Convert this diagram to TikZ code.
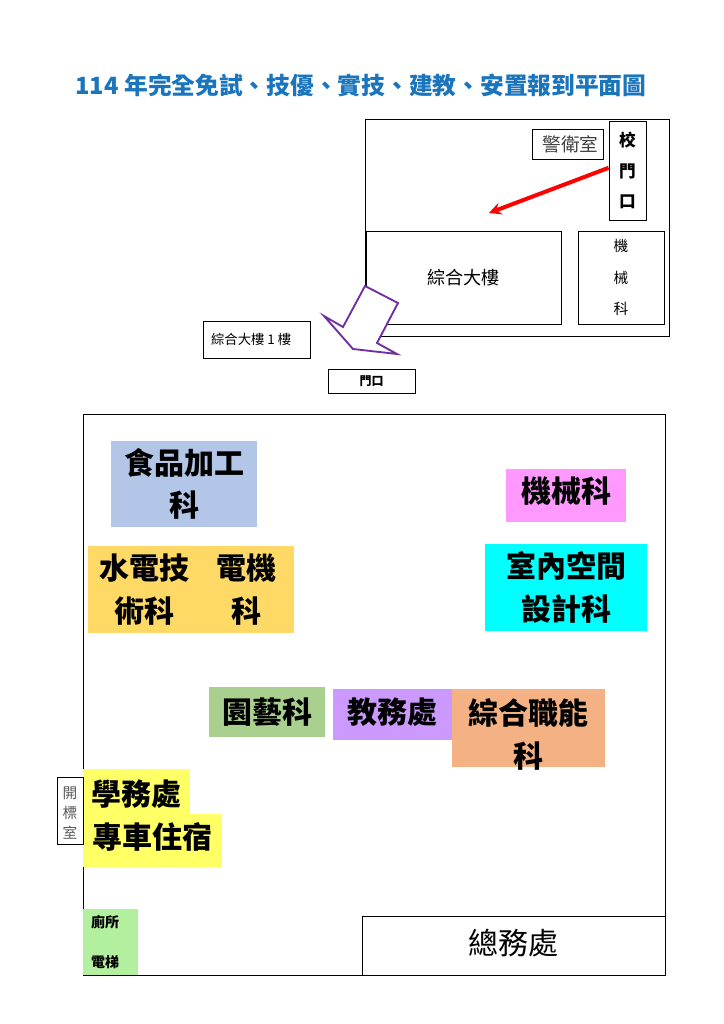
\documentclass[tikz,border=0pt]{standalone}
\usepackage{xcolor}
\usepackage{fontspec}
\setmainfont{Noto Sans CJK TC}
\usetikzlibrary{arrows,positioning}
\definecolor{titleblue}{RGB}{26,117,188}
\definecolor{boxblue}{RGB}{180,198,231}
\definecolor{boxpink}{RGB}{255,153,255}
\definecolor{boxgold}{RGB}{255,217,102}
\definecolor{boxcyan}{RGB}{0,255,255}
\definecolor{boxgreen}{RGB}{169,208,142}
\definecolor{boxpurple}{RGB}{204,153,255}
\definecolor{boxorange}{RGB}{244,177,131}
\definecolor{boxyellow}{RGB}{255,255,102}
\definecolor{boxlime}{RGB}{178,240,160}
\definecolor{arrowpurple}{RGB}{112,48,160}
\newcommand{\pxu}{0.75pt}
\newcommand{\lineup}[1]{\rule[-#1]{0pt}{#1}}
\newcommand{\linedown}[1]{\rule{0pt}{#1}}

\begin{document}
\begin{tikzpicture}[
    x=0.75pt, y=-0.75pt,
    room/.style={rectangle, draw=black, fill=white, line width=0.6pt, inner sep=0pt, align=center},
    area/.style={rectangle, inner sep=0pt, align=center, font=\fontsize{22.5}{32}\selectfont\bfseries},
    arrow/.style={-stealth, red, line width=3pt}
]
    \useasboundingbox (0,0) rectangle (724,1024);
    \node[text=titleblue, font=\fontsize{17.8}{22}\selectfont\bfseries] (title) at (361,85) {114 年完全免試、技優、實技、建教、安置報到平面圖};

    % campus map
    \node[room, minimum width=304*\pxu, minimum height=217*\pxu] (campus) at (517,227.5) {};
    \node[room, minimum width=71*\pxu, minimum height=30*\pxu, font=\fontsize{14}{18}\selectfont, text=black!75] (guard) at (567.5,144) {\hspace*{4.5pt}警衛室};
    \node[room, minimum width=37*\pxu, minimum height=99*\pxu, font=\fontsize{12.5}{23}\selectfont\bfseries] (gate) at (627.5,170.5) {校\\門\\口};
    \node[room, minimum width=195*\pxu, minimum height=93*\pxu, font=\fontsize{13.6}{18}\selectfont] (building) at (463.5,277.5) {綜合大樓};
    \node[room, minimum width=86*\pxu, minimum height=93*\pxu, font=\fontsize{11}{23.5}\selectfont] (mechmap) at (621,277.5) {機\\械\\科};
    \node[room, minimum width=107*\pxu, minimum height=37*\pxu, font=\fontsize{10}{12}\selectfont] (floorone) at (256.5,339.5) {綜合大樓 1 樓\hspace*{8pt}};
    \node[room, minimum width=87*\pxu, minimum height=24*\pxu, font=\fontsize{9}{12}\selectfont\bfseries] (door) at (371.5,381) {門口};

    \coordinate (arrowend) at (489,213);
    \draw[arrow] ([yshift=2pt]gate.west) -- (arrowend);
    \draw[arrowpurple, fill=white, line width=1.4pt, line join=miter]
        (365,286) -- (398,303) -- (377,343) -- (397,354) -- (353,349) -- (324,316) -- (343,327) -- cycle;

    % floor plan
    \node[room, minimum width=582*\pxu, minimum height=561*\pxu] (hall) at (374,694.5) {};
    \node[area, fill=boxblue, minimum width=146*\pxu, minimum height=86*\pxu] (food) at (184,484) {食品加工\\科};
    \node[area, fill=boxpink, minimum width=120*\pxu, minimum height=53*\pxu] (mech) at (566,495.5) {機械科\lineup{8.7pt}};
    \node[area, fill=boxgold, minimum width=116*\pxu, minimum height=87*\pxu] (plumbing) at (146,589.5) {水電技\hspace*{3pt}\\術科\hspace*{3pt}};
    \node[area, fill=boxgold, minimum width=90*\pxu, minimum height=87*\pxu] (electric) at (249,589.5) {電機\hspace*{4pt}\\科\hspace*{4pt}};
    \node[area, fill=boxcyan, minimum width=162*\pxu, minimum height=87*\pxu] (interior) at (566,587.5) {室內空間\\設計科};
    \node[area, fill=boxgreen, minimum width=116*\pxu, minimum height=50*\pxu] (garden) at (267,712) {園藝科};
    \node[area, fill=boxpurple, minimum width=119*\pxu, minimum height=51*\pxu] (academic) at (392.5,714.5) {教務處\lineup{5.7pt}};
    \node[area, fill=boxorange, minimum width=153*\pxu, minimum height=78*\pxu] (vocation) at (528.5,728) {\linedown{26.5pt}綜合職能\\\smash{科}};
    \node[area, fill=boxyellow, minimum width=107*\pxu, minimum height=46*\pxu] (student) at (136.5,792) {\linedown{22.8pt}學務處};
    \node[area, fill=boxyellow, minimum width=139*\pxu, minimum height=53*\pxu] (shuttle) at (152.5,840.5) {專車住宿\lineup{7.2pt}};
    \node[room, minimum width=26*\pxu, minimum height=67*\pxu, font=\fontsize{11}{15}\selectfont, text=black!65] (tender) at (70,810.5) {\linedown{12pt}開\\標\\室};
    \node[area, fill=boxlime, minimum width=55*\pxu, minimum height=66*\pxu, text width=39*\pxu, align=left, font=\fontsize{10.5}{30}\selectfont\bfseries] (toilet) at (110.5,942) {廁所\\電梯};
    \node[room, minimum width=303*\pxu, minimum height=59*\pxu, font=\fontsize{22.5}{26}\selectfont] (general) at (513.5,945.5) {總務處\lineup{5.7pt}};
\end{tikzpicture}
\end{document}
